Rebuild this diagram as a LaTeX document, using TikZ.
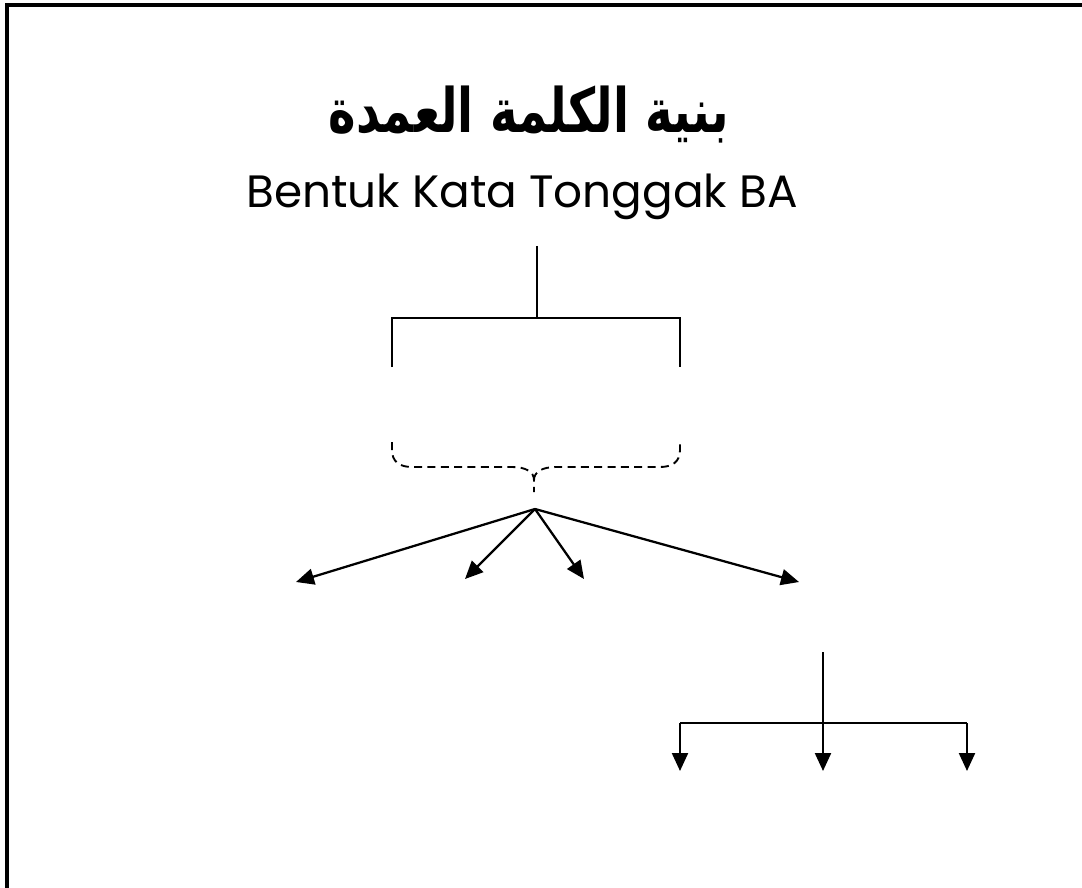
\documentclass[tikz,border=0pt]{standalone}
\usepackage{fontspec}
\setmainfont{Poppins}
\newfontfamily\arabicfont[Script=Arabic,FakeStretch=0.76]{DejaVu Sans}
\TeXXeTstate=1
\usetikzlibrary{arrows.meta}
\begin{document}
\begin{tikzpicture}[x=0.75pt,y=-0.75pt,
  ln/.style={line width=1.7pt},
  arr/.style={ln,-{Triangle[length=13.5pt,width=12pt]}},
  dsh/.style={line width=1.4pt,dash pattern=on 6pt off 4pt}]
\useasboundingbox (0,0) rectangle (1082,888);
% frame
\draw[line width=2.6pt] (7,888) -- (7,5) -- (1082,5);
% titles
\node[anchor=base,inner sep=0pt] (ar) at (529,133) {\arabicfont\bfseries\fontsize{46}{50}\selectfont\beginR بنية الكلمة العمدة\endR};
\node[anchor=base,inner sep=0pt] (lat) at (522,208) {\fontsize{34}{40}\selectfont Bentuk Kata Tonggak BA};
% upper tree
\coordinate (t0) at (537,246);
\coordinate (t1) at (537,318);
\coordinate (hl) at (392,318);
\coordinate (hr) at (680,318);
\coordinate (vl) at (392,367);
\coordinate (vr) at (680,367);
\draw[ln] (t0) -- (t1);
\draw[ln] (vl) -- (hl) -- (hr) -- (vr);
% dashed brace
\coordinate (bl) at (392,442);
\coordinate (br) at (680,442);
\coordinate (bt) at (534,492);
\draw[dsh] (bl) -- (392,450) .. controls (392,462) and (400,467) .. (412,467) -- (512,467)
  .. controls (526,467) and (534,472) .. (534,480) -- (bt);
\draw[dsh] (534,480) .. controls (534,472) and (542,467) .. (556,467) -- (660,467)
  .. controls (672,467) and (680,462) .. (680,450) -- (br);
% fan arrows
\coordinate (ap) at (535,509);
\coordinate (a1) at (296,582);
\coordinate (a2) at (465,579);
\coordinate (a3) at (584,579);
\coordinate (a4) at (799,582);
\draw[arr] (ap) -- (a1);
\draw[arr] (ap) -- (a2);
\draw[arr] (ap) -- (a3);
\draw[arr] (ap) -- (a4);
% lower tree
\coordinate (l0) at (823,652);
\coordinate (lm) at (823,723);
\coordinate (ll) at (680,723);
\coordinate (lr) at (967,723);
\coordinate (d1) at (680,771);
\coordinate (d2) at (823,771);
\coordinate (d3) at (967,771);
\draw[ln] (ll) -- (lr);
\draw[arr] (l0) -- (d2);
\draw[arr] (ll) -- (d1);
\draw[arr] (lr) -- (d3);
\end{tikzpicture}
\end{document}
